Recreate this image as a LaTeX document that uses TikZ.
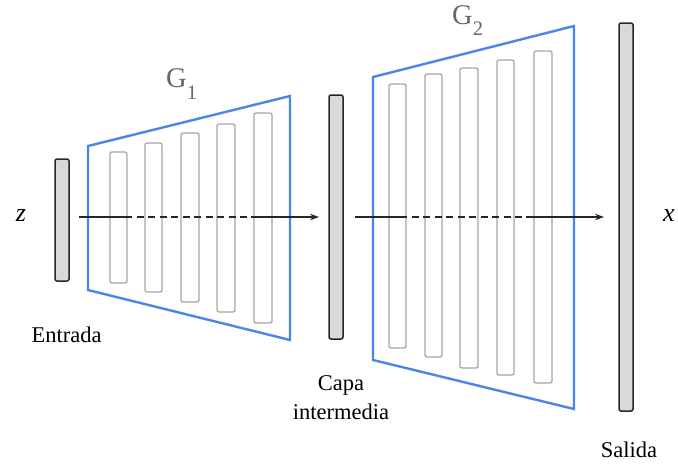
\documentclass[tikz,border=0pt]{standalone}
\usepackage{fontspec}
\setmainfont{Liberation Serif}
\usetikzlibrary{arrows.meta}
\definecolor{gblue}{HTML}{4A86E8}
\definecolor{barfill}{HTML}{D9D9D9}
\definecolor{layergray}{HTML}{A6A6A6}
\definecolor{lblgray}{HTML}{666666}
\tikzset{
  bar/.style={draw=black!85, line width=1.5pt, fill=barfill, rounded corners=2pt, minimum width=14pt, inner sep=0pt},
  gen/.style={draw=gblue, line width=2.4pt, line join=miter},
  layer/.style={draw=layergray, line width=1.3pt, rounded corners=2pt},
  flow/.style={line width=1.3pt, draw=black!85},
  flowdash/.style={flow, dash pattern=on 7pt off 4.5pt},
  tip/.style={-{Stealth[length=9pt,width=6.5pt]}},
  lbl/.style={font=\fontsize{22.5}{29}\selectfont, inner sep=0pt, anchor=base},
  var/.style={font=\fontsize{26}{26}\selectfont\itshape, inner sep=0pt, anchor=base},
  glbl/.style={text=lblgray, inner sep=0pt, anchor=base west}
}
\begin{document}
\begin{tikzpicture}[x=1pt,y=-1pt]
\useasboundingbox (0,0) rectangle (678,467);
% bars
\node[bar, minimum height=122pt] (entrada) at (62,220) {};
\node[bar, minimum height=244pt] (capa) at (336,217) {};
\node[bar, minimum height=388pt] (salida) at (626,217) {};
% generator G1
\draw[gen] (88,146) coordinate (g1a) -- (290,96) coordinate (g1b) -- (290,340) coordinate (g1c) -- (88,290) coordinate (g1d) -- cycle;
\draw[layer] (110,152) rectangle (127,283);
\draw[layer] (145,143) rectangle (162,292);
\draw[layer] (181,133) rectangle (199,302);
\draw[layer] (217,124) rectangle (235,312);
\draw[layer] (254,113) rectangle (272,323);
% generator G2
\draw[gen] (373,77) coordinate (g2a) -- (574,26) coordinate (g2b) -- (574,409) coordinate (g2c) -- (373,360) coordinate (g2d) -- cycle;
\draw[layer] (389,84) rectangle (406,348);
\draw[layer] (425,74) rectangle (442,357);
\draw[layer] (460,68) rectangle (478,368);
\draw[layer] (497,60) rectangle (514,375);
\draw[layer] (534,51) rectangle (552,383);
% flow arrows
\coordinate (f1s) at (79,217);
\coordinate (f1a) at (125,217);
\coordinate (f1b) at (251,217);
\coordinate (f1e) at (319,217);
\draw[flow] (f1s) -- (f1a);
\draw[flowdash] (f1a) -- (f1b);
\draw[flow, tip] (f1b) -- (f1e);
\coordinate (f2s) at (355,217);
\coordinate (f2a) at (400,217);
\coordinate (f2b) at (526,217);
\coordinate (f2e) at (604,217);
\draw[flow] (f2s) -- (f2a);
\draw[flowdash] (f2a) -- (f2b);
\draw[flow, tip] (f2b) -- (f2e);
% labels
\node[var] (zl) at (21,221) {z};
\node[var] (xl) at (669,221) {x};
\node[lbl] (ent) at (66.5,342) {Entrada};
\node[lbl, align=center, anchor=north] (cap) at (341,375) {Capa\\intermedia};
\node[lbl] (sal) at (629,457) {Salida};
\node[glbl] (g1) at (166,87) {{\fontsize{28.5}{28.5}\selectfont G}\raisebox{-12pt}{\fontsize{20.5}{20.5}\selectfont 1}};
\node[glbl] (g2) at (452,24) {{\fontsize{28.5}{28.5}\selectfont G}\raisebox{-11pt}{\fontsize{20.5}{20.5}\selectfont 2}};
\end{tikzpicture}
\end{document}
